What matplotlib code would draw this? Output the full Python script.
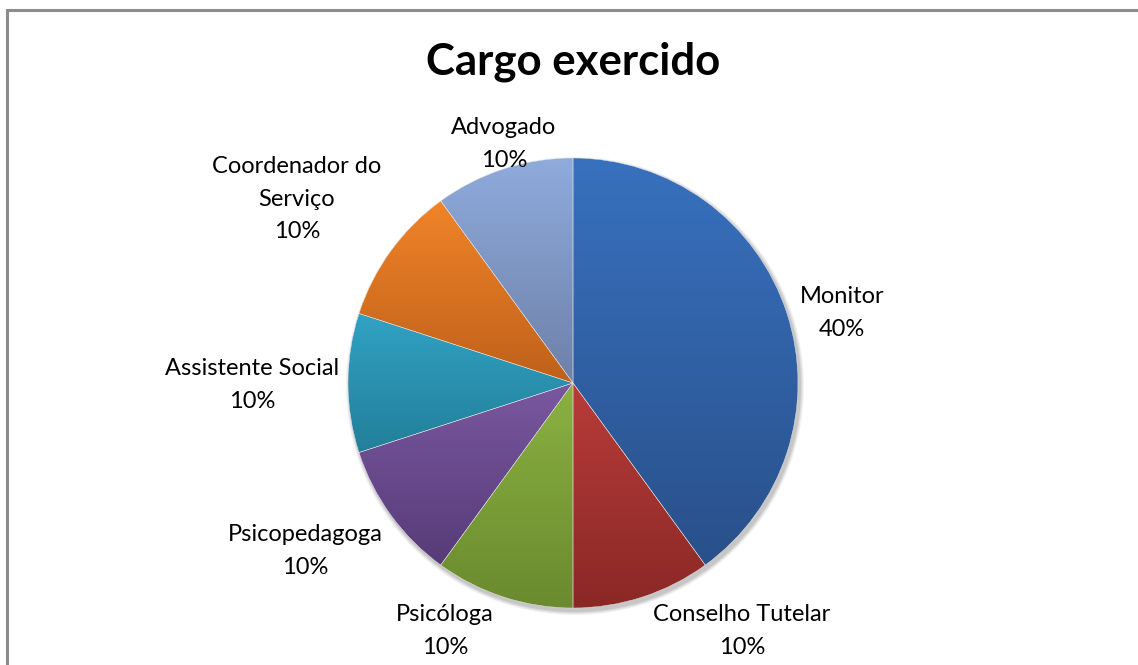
import numpy as np
import matplotlib.pyplot as plt
from matplotlib.patches import Rectangle, Circle
from matplotlib.colors import LinearSegmentedColormap

# data
categories = ['Monitor', 'Conselho Tutelar', 'Psicóloga', 'Psicopedagoga',
              'Assistente Social', 'Coordenador do\nServiço', 'Advogado']
values = [4, 1, 1, 1, 1, 1, 1]
title = 'Cargo exercido'

# (top colour, bottom colour) of each slice gradient
grads = [('#3871bf', '#29508a'), ('#b83c39', '#8a2826'), ('#8bb141', '#6a8a2e'),
         ('#7a58a0', '#573b78'), ('#31a2c4', '#227f99'), ('#f08428', '#bf601a'),
         ('#8fabdc', '#6d80a8')]

# label centre positions in pixels (x, y from top)
label_pos = [(842, 313), (742, 631), (445, 631), (305, 551),
             (252, 385), (297, 199), (504, 144)]

W, H = 1138, 665
plt.rcParams['font.family'] = ['Lato', 'DejaVu Sans']

fig = plt.figure(figsize=(W / 100, H / 100), dpi=100)
ax = fig.add_axes([0, 0, 1, 1])
ax.set_xlim(0, W)
ax.set_ylim(0, H)
ax.set_aspect('equal')
ax.axis('off')

# chart frame
ax.add_patch(Rectangle((7, -20), W + 20, H - 10 + 20, fill=False,
                       edgecolor='#8c8c8c', linewidth=2.2))

cx, cy, r = 573, H - 383, 225

# soft shadow
for i, a in enumerate([0.05, 0.05, 0.06, 0.08]):
    ax.add_patch(Circle((cx + 2, cy - 3), r + 4 - i, color='black', alpha=a,
                        linewidth=0, zorder=1))

wedges, _ = ax.pie(values, startangle=90, counterclock=False, center=(cx, cy),
                   radius=r, wedgeprops=dict(edgecolor='#e8e8e8', linewidth=0.3))
ax.set_xlim(0, W)
ax.set_ylim(0, H)

for w, (c_top, c_bot) in zip(wedges, grads):
    w.set_zorder(2)
    w.set_facecolor('none')
    ext = w.get_path().transformed(w.get_patch_transform()).get_extents()
    cmap = LinearSegmentedColormap.from_list('g', [c_bot, c_top])
    grad = np.linspace(0, 1, 256).reshape(-1, 1)
    im = ax.imshow(grad, cmap=cmap, origin='lower', aspect='auto',
                   extent=[ext.x0, ext.x1, ext.y0, ext.y1], zorder=1.5,
                   interpolation='bicubic')
    im.set_clip_path(w)

total = sum(values)
for cat, v, (lx, ly) in zip(categories, values, label_pos):
    ax.text(lx, H - ly, f'{cat}\n{v / total:.0%}', ha='center', va='center',
            fontsize=17, color='black', linespacing=1.65, zorder=5)

ax.text(573, H - 62, title, ha='center', va='center', fontsize=31.5,
        fontweight='bold', color='black')

fig.savefig('out.png', dpi=100)
